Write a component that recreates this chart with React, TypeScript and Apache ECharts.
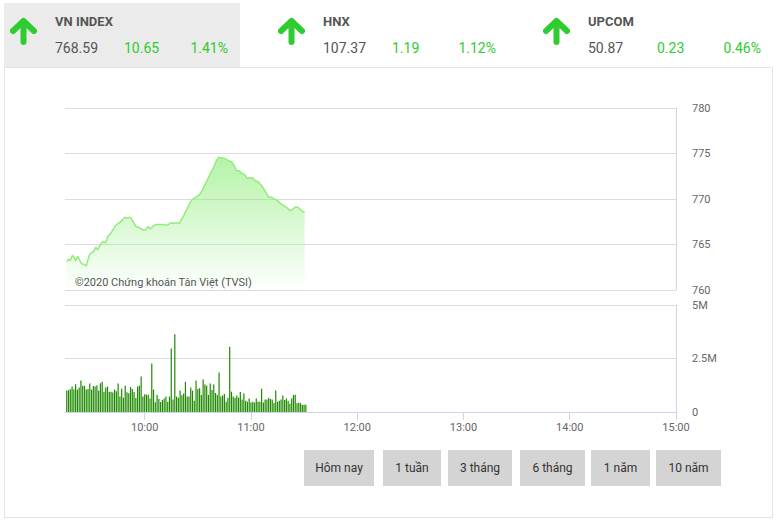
import React, { useEffect, useRef } from "react";
import * as echarts from "echarts";

// ---------- DATA ----------
const indexNames = ["VN INDEX", "HNX", "UPCOM"];
const indexValues = ["768.59", "107.37", "50.87"];
const indexChanges = ["10.65", "1.19", "0.23"];
const indexPercents = ["1.41%", "1.12%", "0.46%"];

// minutes after 09:00
const priceTimes = [
  16.0, 17.2, 18.1, 19.1, 20.2, 20.9, 22.1, 23.2, 24.3, 26.0, 27.0, 27.9, 28.9, 30.0, 31.1, 32.3, 33.6, 34.9, 36.4, 37.9,
  39.2, 40.7, 42.1, 43.2, 44.3, 45.8, 47.4, 48.7, 50.0, 51.5, 52.6, 53.8, 54.9, 56.2, 57.5, 59.0, 60.6, 61.9, 63.2, 64.7,
  66.2, 67.7, 69.2, 70.7, 71.9, 73.4, 74.9, 76.4, 77.9, 79.4, 80.7, 82.1, 83.6, 85.1, 86.6, 88.1, 89.6, 91.1, 92.6, 94.1,
  95.6, 97.1, 98.7, 100.2, 101.7, 102.8, 104.3, 105.8, 107.3, 108.9, 110.4, 111.9, 113.4, 114.9, 116.4, 117.9, 119.4, 120.9, 122.5, 124.0,
  125.5, 127.0, 128.5, 130.0, 131.5, 133.0, 134.5, 136.0, 137.5, 139.1, 140.6, 142.1, 143.6, 145.1, 146.6, 148.1, 149.2, 150.3,
];
const priceValues = [
  763.1, 763.4, 763.2, 763.8, 763.6, 763.2, 763.7, 763.3, 762.9, 762.8, 762.6, 763.3, 763.9, 764.1, 764.2, 764.7, 764.4, 765.0, 765.3, 765.2,
  765.9, 766.2, 766.6, 767.0, 767.2, 767.4, 767.7, 768.0, 767.9, 768.0, 767.8, 767.4, 767.0, 766.9, 766.8, 766.6, 766.6, 767.0, 766.7, 767.0,
  767.2, 767.2, 767.2, 767.2, 767.1, 767.2, 767.4, 767.3, 767.4, 767.3, 767.7, 768.2, 768.8, 769.4, 769.9, 770.1, 770.3, 770.5, 771.0, 771.6,
  772.2, 772.8, 773.4, 774.1, 774.6, 774.5, 774.5, 774.4, 774.2, 774.1, 773.7, 773.1, 773.1, 772.8, 772.7, 772.3, 772.3, 772.3, 772.0, 771.9,
  771.6, 771.2, 770.7, 770.2, 770.2, 770.0, 769.9, 769.6, 769.4, 769.2, 769.0, 768.7, 768.9, 769.1, 769.1, 768.8, 768.6, 768.59,
];

// volume in millions of shares, one bar per minute from 09:16
const volumeStartMinute = 16;
const volumeValues = [
  1.0, 1.02, 1.06, 1.19, 1.06, 1.3, 1.05, 1.14, 1.47, 1.23, 1.22, 1.05, 1.08, 1.33, 1.05, 1.22, 1.19, 1.25, 1.0, 1.34,
  1.41, 0.95, 1.14, 1.19, 0.95, 0.95, 0.91, 1.05, 0.97, 1.33, 0.72, 1.09, 0.67, 1.23, 0.92, 0.88, 1.17, 1.08, 0.94, 0.66,
  1.19, 1.23, 1.66, 0.72, 0.83, 0.81, 0.81, 0.63, 2.27, 1.05, 0.45, 0.81, 0.61, 0.47, 0.56, 0.63, 0.72, 0.48, 0.72, 2.97,
  0.58, 3.63, 0.72, 0.67, 1.0, 0.78, 0.86, 1.41, 0.72, 0.72, 1.14, 1.0, 0.53, 1.47, 1.08, 1.11, 0.8, 1.52, 1.28, 1.23,
  0.8, 1.33, 1.03, 1.28, 0.89, 0.8, 1.84, 0.72, 0.77, 0.84, 0.48, 0.67, 3.05, 0.95, 0.72, 0.67, 0.77, 0.67, 0.94, 0.58,
  0.86, 0.53, 0.48, 0.63, 0.44, 0.48, 0.44, 0.63, 0.48, 0.48, 1.09, 0.44, 0.58, 0.58, 0.67, 0.61, 0.58, 0.42, 1.0, 0.48,
  0.53, 0.58, 0.77, 0.56, 0.63, 0.52, 0.39, 0.63, 0.8, 0.81, 0.41, 0.44, 0.41, 0.34, 0.34, 0.34,
];

const timeTicks = [60, 120, 180, 240, 300, 360];
const priceMin = 760;
const priceMax = 780;
const priceStep = 5;
const volumeMax = 5;
const volumeStep = 2.5;

const rangeButtons = ["Hôm nay", "1 tuần", "3 tháng", "6 tháng", "1 năm", "10 năm"];

// ---------- STYLE / LAYOUT ----------
const FONT = "Roboto, 'Noto Sans', sans-serif";
const GREEN = "#2ecc2e";
const GRAY = "#555555";
const headerX = [10, 278, 543];
const buttonBoxes = [
  [304, 70],
  [383, 58],
  [448, 64],
  [520, 65],
  [591, 59],
  [656, 65],
];

function fmtTime(v: number) {
  const h = 9 + Math.floor(v / 60);
  const m = Math.round(v % 60);
  return `${h}:${m < 10 ? "0" + m : m}`;
}

function arrow(x: number, y: number) {
  return {
    type: "group",
    x,
    y,
    children: [
      {
        type: "polyline",
        shape: { points: [[3, 12], [13.5, 2], [24, 12]] },
        style: { stroke: GREEN, lineWidth: 6, lineCap: "round", lineJoin: "round", fill: null },
      },
      {
        type: "line",
        shape: { x1: 13.5, y1: 4, x2: 13.5, y2: 23 },
        style: { stroke: GREEN, lineWidth: 6, lineCap: "round" },
      },
    ],
  };
}

export default function App() {
  const ref = useRef<HTMLDivElement>(null);

  useEffect(() => {
    if (!ref.current) return;
    const chart = echarts.init(ref.current, null, { renderer: "svg" });

    const graphics: any[] = [
      { type: "rect", shape: { x: 4, y: 3, width: 236, height: 64 }, style: { fill: "#ebebeb" }, z: -10 },
      {
        type: "rect",
        shape: { x: 4.5, y: 67.5, width: 768, height: 450 },
        style: { fill: null, stroke: "#e2e2e2", lineWidth: 1 },
        z: -9,
      },
      {
        type: "text",
        x: 75,
        y: 282,
        style: {
          text: "©2020 Chứng khoán Tân Việt (TVSI)",
          fill: GRAY,
          font: `11px ${FONT}`,
          textVerticalAlign: "middle",
        },
        z: 20,
      },
    ];

    indexNames.forEach((name, i) => {
      const x0 = headerX[i];
      graphics.push(arrow(x0, 19));
      graphics.push({
        type: "text",
        x: x0 + 45,
        y: 21,
        style: { text: name, fill: GRAY, font: `bold 13px ${FONT}`, textVerticalAlign: "middle" },
      });
      graphics.push({
        type: "text",
        x: x0 + 45,
        y: 48,
        style: { text: indexValues[i], fill: GRAY, font: `14px ${FONT}`, textVerticalAlign: "middle" },
      });
      graphics.push({
        type: "text",
        x: x0 + 114,
        y: 48,
        style: { text: indexChanges[i], fill: GREEN, font: `14px ${FONT}`, textVerticalAlign: "middle" },
      });
      graphics.push({
        type: "text",
        x: x0 + 218,
        y: 48,
        style: {
          text: indexPercents[i],
          fill: GREEN,
          font: `14px ${FONT}`,
          textVerticalAlign: "middle",
          textAlign: "right",
        },
      });
    });

    rangeButtons.forEach((label, i) => {
      const [bx, bw] = buttonBoxes[i];
      graphics.push({
        type: "rect",
        shape: { x: bx, y: 450, width: bw, height: 36 },
        style: { fill: "#d4d4d4" },
      });
      graphics.push({
        type: "text",
        x: bx + bw / 2,
        y: 468,
        style: {
          text: label,
          fill: "#333",
          font: `12px ${FONT}`,
          textAlign: "center",
          textVerticalAlign: "middle",
        },
      });
    });

    const priceData = priceTimes.map((t, i) => [t, priceValues[i]]);
    const volumeData = volumeValues.map((v, i) => [volumeStartMinute + i, v]);

    chart.setOption({
      animation: false,
      backgroundColor: "#ffffff",
      textStyle: { fontFamily: FONT },
      grid: [
        { left: 65, top: 108, width: 611, height: 182 },
        { left: 65, top: 305, width: 611, height: 107 },
      ],
      xAxis: [
        { type: "value", gridIndex: 0, min: 15, max: 360, show: false },
        {
          type: "value",
          gridIndex: 1,
          min: 15,
          max: 360,
          axisLine: { show: true, lineStyle: { color: "#ccd6eb" } },
          axisTick: { show: true, customValues: timeTicks, length: 8, lineStyle: { color: "#ccd6eb" } },
          axisLabel: {
            customValues: timeTicks,
            formatter: (v: number) => fmtTime(v),
            color: "#666",
            fontSize: 11,
            margin: 10,
          },
          splitLine: { show: false },
        },
      ],
      yAxis: [
        {
          type: "value",
          gridIndex: 0,
          position: "right",
          min: priceMin,
          max: priceMax,
          interval: priceStep,
          axisLine: { show: true, lineStyle: { color: "#ccd6eb" } },
          axisTick: { show: false },
          axisLabel: { color: "#666", fontSize: 11, margin: 16 },
          splitLine: { show: true, lineStyle: { color: "#dcdcdc" } },
        },
        {
          type: "value",
          gridIndex: 1,
          position: "right",
          min: 0,
          max: volumeMax,
          interval: volumeStep,
          axisLine: { show: true, lineStyle: { color: "#ccd6eb" } },
          axisTick: { show: false },
          axisLabel: {
            color: "#666",
            fontSize: 11,
            margin: 16,
            formatter: (v: number) => (v === 0 ? "0" : `${v}M`),
          },
          splitLine: { show: true, lineStyle: { color: "#dcdcdc" } },
        },
      ],
      series: [
        {
          type: "line",
          xAxisIndex: 0,
          yAxisIndex: 0,
          data: priceData,
          showSymbol: false,
          symbol: "none",
          lineStyle: { color: "#90ed7d", width: 1.5 },
          areaStyle: {
            origin: "start",
            color: new echarts.graphic.LinearGradient(0, 0, 0, 1, [
              { offset: 0, color: "rgba(144,237,125,0.95)" },
              { offset: 1, color: "rgba(144,237,125,0.02)" },
            ]),
          },
        },
        {
          type: "bar",
          xAxisIndex: 1,
          yAxisIndex: 1,
          data: volumeData,
          barWidth: 1.2,
          itemStyle: { color: "#1e8a00" },
        },
      ],
      graphic: graphics,
    });

    return () => chart.dispose();
  }, []);

  return (
    <div
      ref={ref}
      style={{ position: "absolute", left: 0, top: 0, width: 779, height: 523, background: "#fff" }}
    />
  );
}
